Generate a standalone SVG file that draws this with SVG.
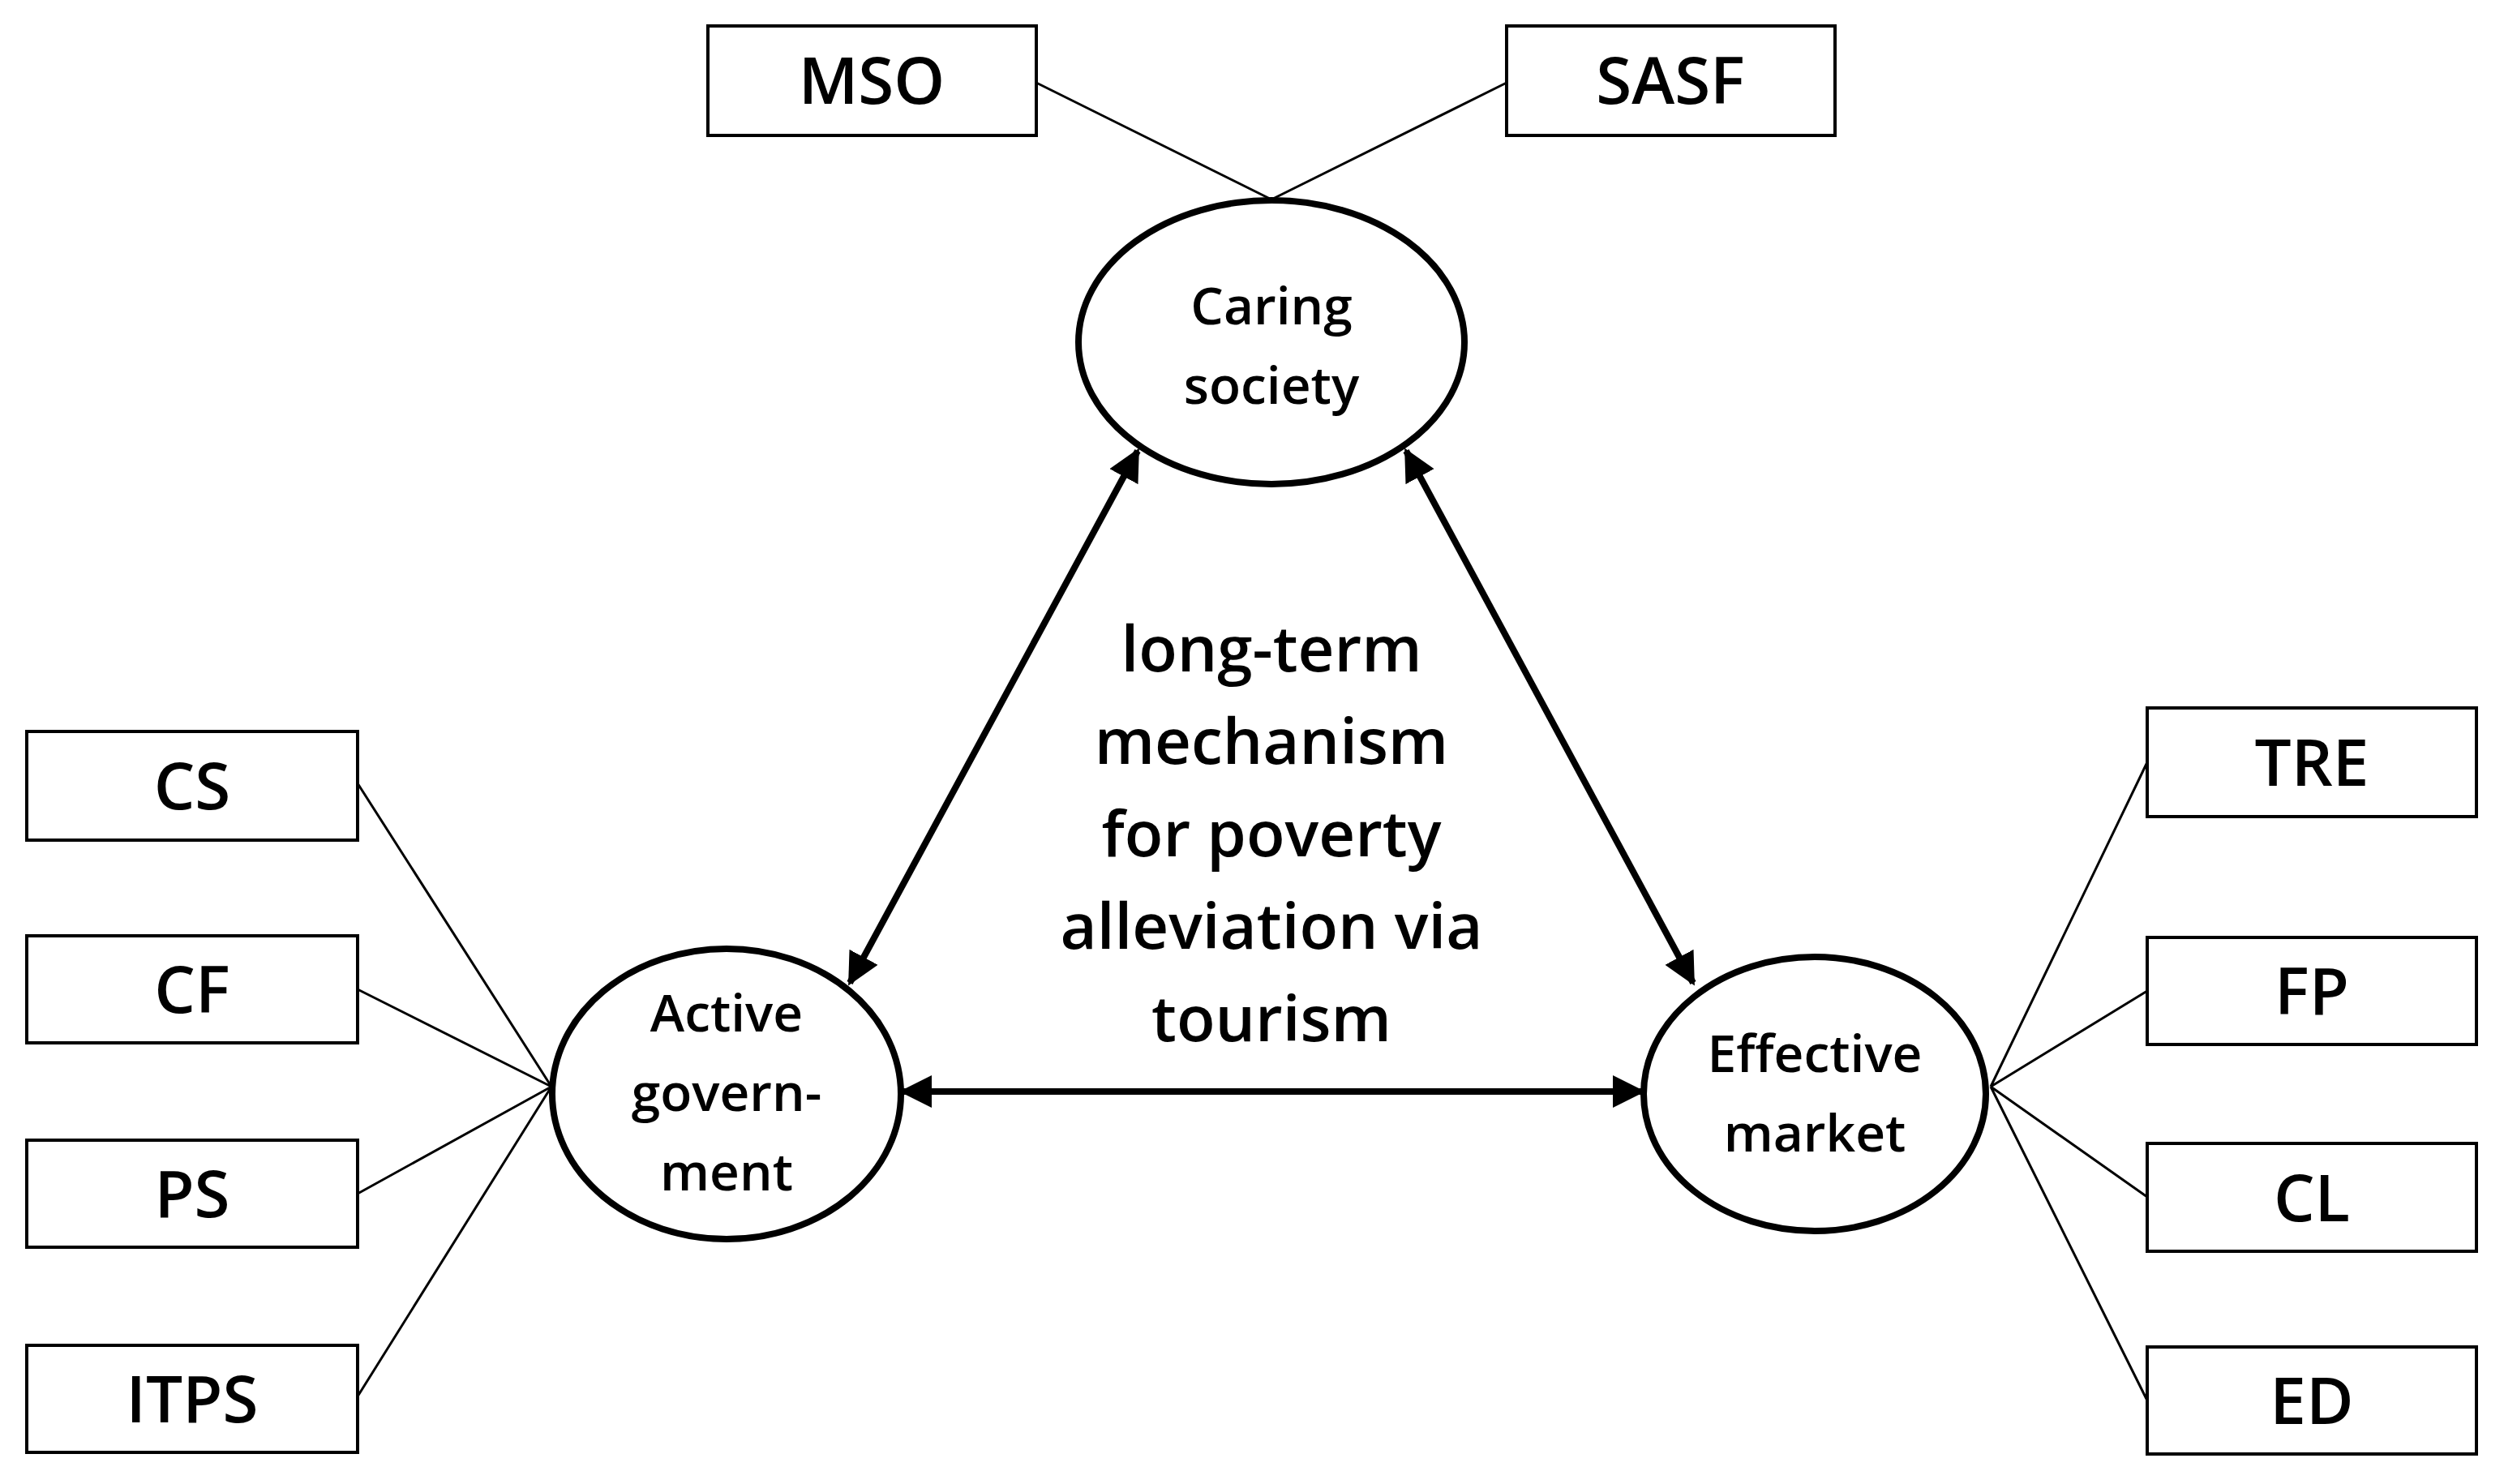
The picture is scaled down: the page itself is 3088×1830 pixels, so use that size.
<svg xmlns="http://www.w3.org/2000/svg" width="3088" height="1830" viewBox="0 0 3088 1830">
<defs>
<marker id="ah" viewBox="0 0 10 10" refX="9" refY="5" markerWidth="5" markerHeight="5" orient="auto-start-reverse" markerUnits="strokeWidth"><path d="M0,0L10,5L0,10z" fill="#000"/></marker>
<style>
.box{fill:#fff;stroke:#000;stroke-width:4}
.ell{fill:#fff;stroke:#000;stroke-width:8}
.bl{font-family:"Open Sans","Noto Sans",sans-serif;font-weight:600;font-size:80px;text-anchor:middle;fill:#000}
.nl{font-family:"Open Sans","Noto Sans",sans-serif;font-weight:600;font-size:64px;text-anchor:middle;fill:#000}
.cl{font-family:"Open Sans","Noto Sans",sans-serif;font-weight:600;font-size:78px;text-anchor:middle;fill:#000}
.ln{stroke:#000;stroke-width:3;fill:none}
.ar{stroke:#000;stroke-width:8;fill:none;marker-start:url(#ah);marker-end:url(#ah)}
</style>
</defs>
<rect width="3088" height="1830" fill="#fff"/>
<g id="connectors">
<path class="ln" d="M1278,102L1568,246M1858,102L1568,246"/>
<path class="ln" d="M441,966L680,1340M441,1220L680,1340M441,1472L680,1340M441,1722L680,1340"/>
<path class="ln" d="M2648,940L2455,1340M2648,1222L2455,1340M2648,1476L2455,1340M2648,1727L2455,1340"/>
<line class="ar" x1="1403" y1="556" x2="1048" y2="1212"/>
<line class="ar" x1="1734" y1="556" x2="2088" y2="1212"/>
<line class="ar" x1="1113" y1="1346" x2="2025" y2="1346"/>
</g>
<g id="caring"><ellipse class="ell" cx="1568" cy="422" rx="238" ry="175"/><text class="nl" x="1568" y="400">Caring</text><text class="nl" x="1568" y="498">society</text></g>
<g id="active"><ellipse class="ell" cx="896" cy="1349" rx="215" ry="179"/><text class="nl" x="896" y="1272">Active</text><text class="nl" x="896" y="1370">govern-</text><text class="nl" x="896" y="1468">ment</text></g>
<g id="effective"><ellipse class="ell" cx="2238" cy="1349" rx="211" ry="169"/><text class="nl" x="2238" y="1322">Effective</text><text class="nl" x="2238" y="1420">market</text></g>
<g id="center"><text class="cl" x="1568" y="828">long-term</text><text class="cl" x="1568" y="942">mechanism</text><text class="cl" x="1568" y="1056">for poverty</text><text class="cl" x="1568" y="1170">alleviation via</text><text class="cl" x="1568" y="1284">tourism</text></g>
<g id="mso"><rect class="box" x="873" y="32" width="405" height="135"/><text class="bl" x="1075" y="128">MSO</text></g>
<g id="sasf"><rect class="box" x="1858" y="32" width="405" height="135"/><text class="bl" x="2060" y="128">SASF</text></g>
<g id="cs"><rect class="box" x="33" y="902" width="408" height="134"/><text class="bl" x="237" y="998">CS</text></g>
<g id="cf"><rect class="box" x="33" y="1154" width="408" height="132"/><text class="bl" x="237" y="1249">CF</text></g>
<g id="ps"><rect class="box" x="33" y="1406" width="408" height="132"/><text class="bl" x="237" y="1501">PS</text></g>
<g id="itps"><rect class="box" x="33" y="1659" width="408" height="132"/><text class="bl" x="237" y="1754">ITPS</text></g>
<g id="tre"><rect class="box" x="2648" y="873" width="406" height="134"/><text class="bl" x="2851" y="969">TRE</text></g>
<g id="fp"><rect class="box" x="2648" y="1156" width="406" height="132"/><text class="bl" x="2851" y="1251">FP</text></g>
<g id="clb"><rect class="box" x="2648" y="1410" width="406" height="133"/><text class="bl" x="2851" y="1506">CL</text></g>
<g id="ed"><rect class="box" x="2648" y="1661" width="406" height="132"/><text class="bl" x="2851" y="1756">ED</text></g>
</svg>
